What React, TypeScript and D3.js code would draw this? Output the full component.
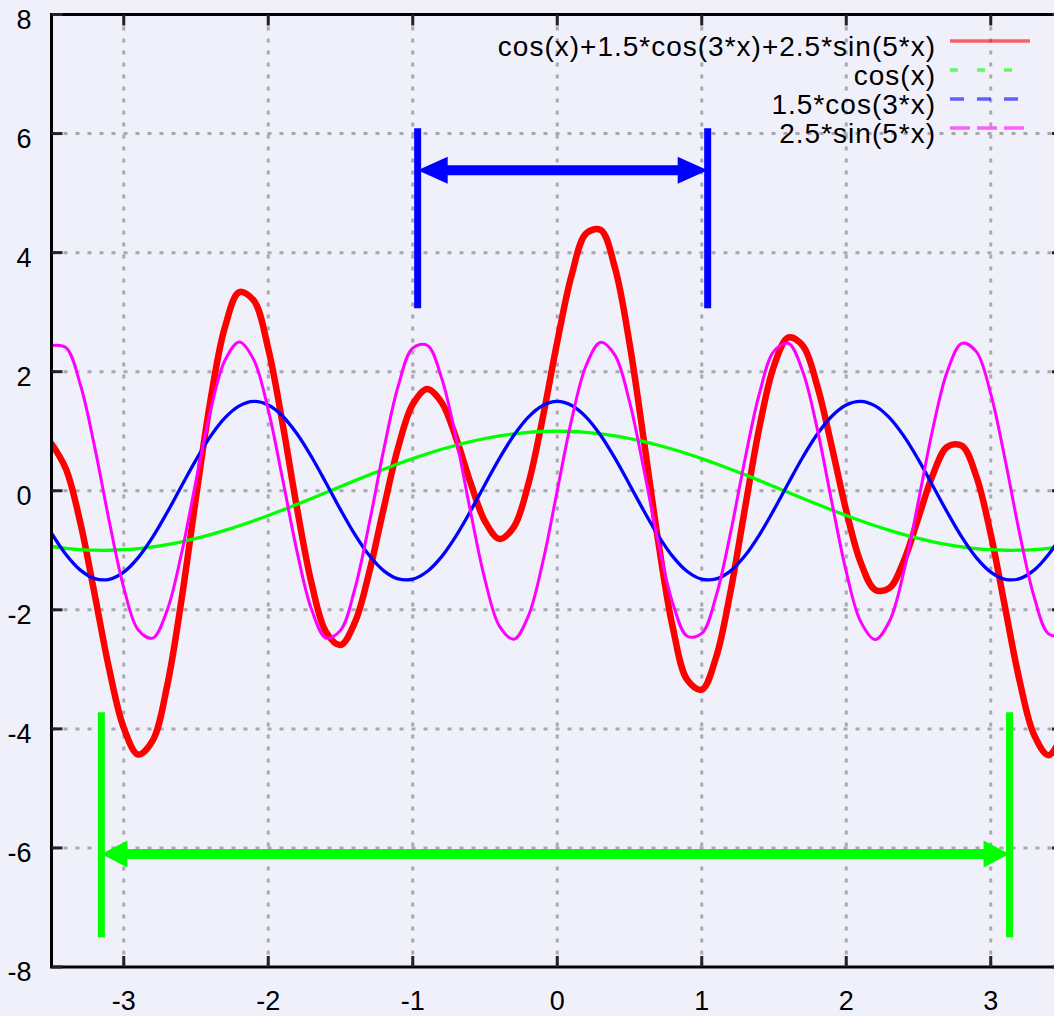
import React from 'react';
import * as d3 from 'd3';

// sample positions
const xSamples = [
  -3.5, -3.4, -3.3, -3.2, -3.1, -3.0, -2.9, -2.8, -2.7, -2.6, -2.5, -2.4, -2.3, -2.2, -2.1, -2.0, -1.9, -1.8, -1.7, -1.6,
  -1.5, -1.4, -1.3, -1.2, -1.1, -1.0, -0.9, -0.8, -0.7, -0.6, -0.5, -0.4, -0.3, -0.2, -0.1, 0.0,
  0.1, 0.2, 0.3, 0.4, 0.5, 0.6, 0.7, 0.8, 0.9, 1.0, 1.1, 1.2, 1.3, 1.4, 1.5, 1.6, 1.7, 1.8, 1.9, 2.0,
  2.1, 2.2, 2.3, 2.4, 2.5, 2.6, 2.7, 2.8, 2.9, 3.0, 3.1, 3.2, 3.3, 3.4, 3.5,
];

// cos(x)+1.5*cos(3*x)+2.5*sin(5*x)
const sumValues = [
  0.7892, 0.3652, -0.5418, -1.7556, -3.0037, -3.9825, -4.4312, -4.1977, -3.2789, -1.8264,
  -0.1154, 1.5167, 2.7461, 3.3368, 3.1944, 2.3842, 1.1168, -0.3054, -1.5581, -2.3714,
  -2.5905, -2.2080, -1.3592, -0.2843, 0.7361, 1.4526, 1.7092, 1.4826, 0.8846, 0.1317,
  -0.5125, -0.8086, -0.6060, 0.1143, 1.2295, 2.5,
  3.6265, 4.3219, 4.3814, 3.7380, 2.4799, 0.8373, -0.8694, -2.3014, -3.1784, -3.3420,
  -2.7915, -1.6813, -0.2836, 1.0770, 2.0995, 2.5756, 2.4345, 1.7552, 0.7408, -0.3358,
  -1.2042, -1.6632, -1.6315, -1.1663, -0.4470, 0.2746, 0.7401, 0.7553, 0.2434, -0.7309,
  -1.9711, -3.1952, -4.1008, -4.4418, -4.0888,
];

// cos(x)
const cosValues = [
  -0.9365, -0.9668, -0.9875, -0.9983, -0.9991, -0.9900, -0.9710, -0.9422, -0.9041, -0.8569,
  -0.8011, -0.7374, -0.6663, -0.5885, -0.5048, -0.4161, -0.3233, -0.2272, -0.1288, -0.0292,
  0.0707, 0.1700, 0.2675, 0.3624, 0.4536, 0.5403, 0.6216, 0.6967, 0.7648, 0.8253,
  0.8776, 0.9211, 0.9553, 0.9801, 0.9950, 1.0,
  0.9950, 0.9801, 0.9553, 0.9211, 0.8776, 0.8253, 0.7648, 0.6967, 0.6216, 0.5403,
  0.4536, 0.3624, 0.2675, 0.1700, 0.0707, -0.0292, -0.1288, -0.2272, -0.3233, -0.4161,
  -0.5048, -0.5885, -0.6663, -0.7374, -0.8011, -0.8569, -0.9041, -0.9422, -0.9710, -0.9900,
  -0.9991, -0.9983, -0.9875, -0.9668, -0.9365,
];

// 1.5*cos(3*x)
const cos3Values = [
  -0.7133, -1.0715, -1.3338, -1.4771, -1.4883, -1.3667, -1.1229, -0.7790, -0.3653, 0.0810,
  0.5199, 0.9126, 1.2236, 1.4253, 1.4999, 1.4403, 1.2521, 0.9521, 0.5670, 0.1313,
  -0.3162, -0.7355, -1.0889, -1.3452, -1.4813, -1.4850, -1.3562, -1.1061, -0.7572, -0.3408,
  0.1061, 0.5436, 0.9324, 1.2380, 1.4330, 1.5,
  1.4330, 1.2380, 0.9324, 0.5436, 0.1061, -0.3408, -0.7572, -1.1061, -1.3562, -1.4850,
  -1.4813, -1.3452, -1.0889, -0.7355, -0.3162, 0.1313, 0.5670, 0.9521, 1.2521, 1.4403,
  1.4999, 1.4253, 1.2236, 0.9126, 0.5199, 0.0810, -0.3653, -0.7790, -1.1229, -1.3667,
  -1.4883, -1.4771, -1.3338, -1.0715, -0.7133,
];

// 2.5*sin(5*x)
const sin5Values = [
  2.4390, 2.4035, 1.7795, 0.7198, -0.5163, -1.6258, -2.3373, -2.4765, -2.0095, -1.0505,
  0.1658, 1.3415, 2.1888, 2.5000, 2.1993, 1.3600, 0.1880, -1.0303, -1.9963, -2.4735,
  -2.3450, -1.6425, -0.5378, 0.6985, 1.7638, 2.3973, 2.4438, 1.8920, 0.8770, -0.3528,
  -1.4962, -2.2733, -2.4937, -2.1038, -1.1985, 0,
  1.1985, 2.1038, 2.4937, 2.2733, 1.4962, 0.3528, -0.8770, -1.8920, -2.4438, -2.3973,
  -1.7638, -0.6985, 0.5378, 1.6425, 2.3450, 2.4735, 1.9963, 1.0303, -0.1880, -1.3600,
  -2.1993, -2.5000, -2.1888, -1.3415, -0.1658, 1.0505, 2.0095, 2.4765, 2.3373, 1.6258,
  0.5163, -0.7198, -1.7795, -2.4035, -2.4390,
];

const xTicks = [-3, -2, -1, 0, 1, 2, 3];
const yTicks = [-8, -6, -4, -2, 0, 2, 4, 6, 8];
const xGrid = [-3, -2, -1, 0, 1, 2, 3];
const yGrid = [-6, -4, -2, 0, 2, 4, 6];

const seriesLabels = ['cos(x)+1.5*cos(3*x)+2.5*sin(5*x)', 'cos(x)', '1.5*cos(3*x)', '2.5*sin(5*x)'];
const seriesColors = ['#ff0000', '#00ff00', '#0000ff', '#ff00ff'];

// annotation arrows (data units): blue = period of 1.5*cos(3x), green = period of cos(x)
const arrowFromX = [-0.966, -3.155];
const arrowToX = [1.041, 3.13];
const arrowY = [5.385, -6.1];
const barLowY = [3.065, -7.5];
const barHighY = [6.09, -3.72];
const arrowColors = ['#0000ff', '#00ff00'];

const W = 1054;
const H = 1016;
const PL = 51.5, PR = 1063, PT = 14.5, PB = 967;

export default function App() {
  const x = d3.scaleLinear().domain([-3.5, 3.5]).range([PL, PR]);
  const y = d3.scaleLinear().domain([-8, 8]).range([PB, PT]);

  const seriesData = [sumValues, cosValues, cos3Values, sin5Values];
  const widths = [6.5, 3.3, 3.3, 3.0];
  const line = d3
    .line<number>()
    .x((_, i) => x(xSamples[i]))
    .y((d) => y(d))
    .curve(d3.curveCatmullRom.alpha(0.5));

  const legendDash = [null, '8,19', '14,13', '20,7'];
  const headLen = [30, 26];
  const headHalf = [13.5, 13.5];
  const shaftW = [10, 10];
  const barW = [7, 7];

  const font = "'Liberation Sans', Arial, Helvetica, sans-serif";

  return (
    <svg
      width={W}
      height={H}
      style={{ position: 'absolute', left: 0, top: 0, display: 'block' }}
      xmlns="http://www.w3.org/2000/svg"
    >
      <defs>
        <clipPath id="plotClip">
          <rect x={PL} y={PT} width={PR - PL} height={PB - PT} />
        </clipPath>
      </defs>
      <rect x={0} y={0} width={W} height={H} fill="#f0f0fa" />

      {/* grid */}
      <g stroke="#a8a8b0" strokeWidth={3} strokeDasharray="4,8" fill="none">
        {xGrid.map((v) => (
          <line key={'gx' + v} x1={x(v)} x2={x(v)} y1={PT} y2={PB} />
        ))}
        {yGrid.map((v) => (
          <line key={'gy' + v} x1={PL} x2={PR} y1={y(v)} y2={y(v)} />
        ))}
      </g>

      {/* curves */}
      <g clipPath="url(#plotClip)" fill="none" strokeLinejoin="round" strokeLinecap="round">
        {seriesData.map((vals, i) => (
          <path key={'s' + i} d={line(vals) || ''} stroke={seriesColors[i]} strokeWidth={widths[i]} />
        ))}
      </g>

      {/* frame */}
      <rect x={PL} y={PT} width={PR - PL} height={PB - PT} fill="none" stroke="#000" strokeWidth={3} />

      {/* ticks */}
      <g stroke="#222" strokeWidth={3}>
        {xTicks.map((v) => (
          <g key={'tx' + v}>
            <line x1={x(v)} x2={x(v)} y1={PB} y2={PB - 11} />
            <line x1={x(v)} x2={x(v)} y1={PT} y2={PT + 11} />
          </g>
        ))}
        {yTicks.map((v) => (
          <g key={'ty' + v}>
            <line x1={PL} x2={PL + 11} y1={y(v)} y2={y(v)} />
            <line x1={PR} x2={PR - 11} y1={y(v)} y2={y(v)} />
          </g>
        ))}
      </g>

      {/* tick labels */}
      <g fontFamily={font} fontSize={27} fill="#000">
        {xTicks.map((v) => (
          <text key={'lx' + v} x={x(v)} y={1010} textAnchor="middle">
            {String(v)}
          </text>
        ))}
        {yTicks.map((v) => (
          <text key={'ly' + v} x={31.5} y={y(v) + 14} textAnchor="end">
            {String(v)}
          </text>
        ))}
      </g>

      {/* legend */}
      <g fontFamily={font} fontSize={28} fill="#000" letterSpacing={1.0}>
        {seriesLabels.map((lab, i) => {
          const ly = 41 + i * 29;
          return (
            <g key={'lg' + i}>
              <text x={936} y={ly + 15} textAnchor="end">
                {lab}
              </text>
              <line
                x1={950}
                x2={1030}
                y1={ly}
                y2={ly}
                stroke={seriesColors[i]}
                strokeOpacity={0.6}
                strokeWidth={3.5}
                strokeDasharray={legendDash[i] || undefined}
              />
            </g>
          );
        })}
      </g>

      {/* annotation arrows */}
      {arrowFromX.map((_, i) => {
        const xa = x(arrowFromX[i]);
        const xb = x(arrowToX[i]);
        const ya = y(arrowY[i]);
        const c = arrowColors[i];
        const hl = headLen[i];
        const hh = headHalf[i];
        return (
          <g key={'ar' + i}>
            <line x1={xa} x2={xa} y1={y(barLowY[i])} y2={y(barHighY[i])} stroke={c} strokeWidth={barW[i]} />
            <line x1={xb} x2={xb} y1={y(barLowY[i])} y2={y(barHighY[i])} stroke={c} strokeWidth={barW[i]} />
            <line x1={xa + hl - 2} x2={xb - hl + 2} y1={ya} y2={ya} stroke={c} strokeWidth={shaftW[i]} />
            <polygon points={`${xa},${ya} ${xa + hl},${ya - hh} ${xa + hl},${ya + hh}`} fill={c} />
            <polygon points={`${xb},${ya} ${xb - hl},${ya - hh} ${xb - hl},${ya + hh}`} fill={c} />
          </g>
        );
      })}
    </svg>
  );
}
